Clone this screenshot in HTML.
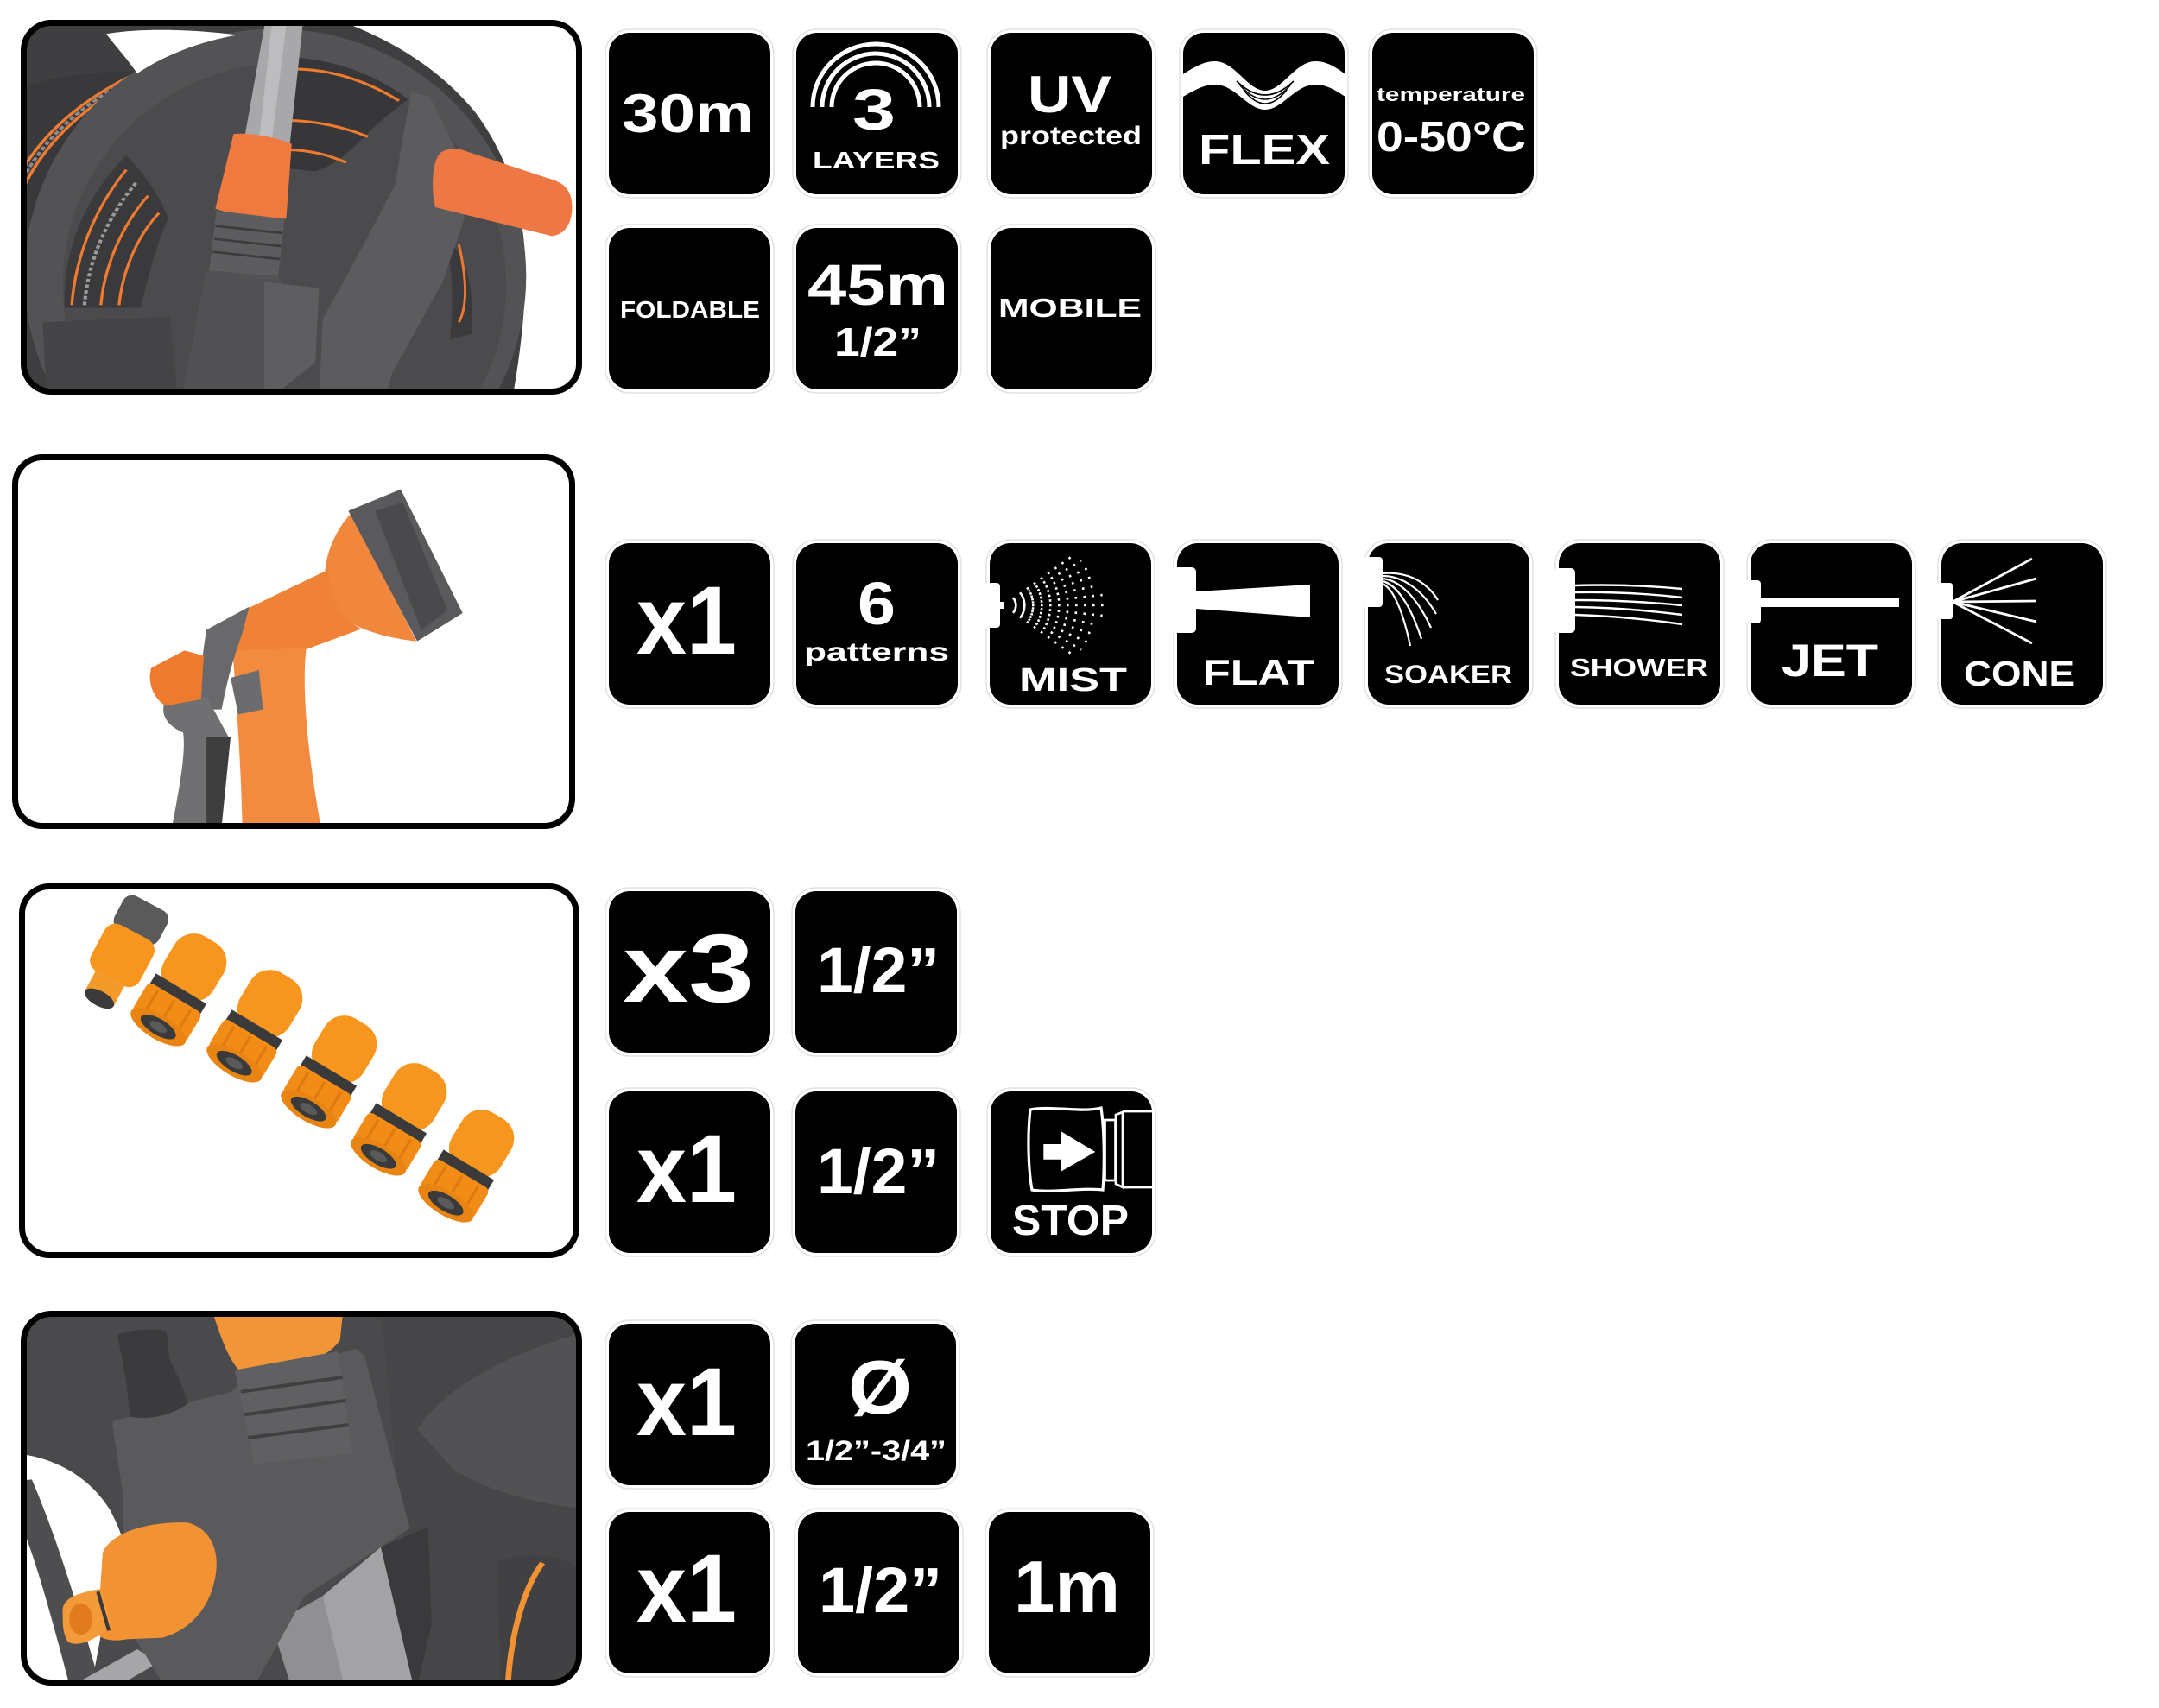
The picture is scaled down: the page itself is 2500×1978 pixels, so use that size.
<!DOCTYPE html>
<html><head><meta charset="utf-8">
<style>
html,body{margin:0;padding:0;background:#fff;}
svg{display:block;}
text{font-family:"Liberation Sans",Arial,sans-serif;font-weight:bold;fill:#fff;}
</style></head><body>
<svg width="2500" height="1978" viewBox="0 0 2500 1978" xmlns="http://www.w3.org/2000/svg" xmlns:xlink="http://www.w3.org/1999/xlink">
<defs>
 <clipPath id="c1"><rect x="27.5" y="26.5" width="643" height="427" rx="32"/></clipPath>
 <clipPath id="c2"><rect x="17.5" y="529.5" width="645" height="427" rx="32"/></clipPath>
 <clipPath id="c3"><rect x="25.5" y="1026.5" width="642" height="427" rx="32"/></clipPath>
 <clipPath id="c4"><rect x="27.5" y="1521.5" width="643" height="427" rx="32"/></clipPath>
 <clipPath id="cflex"><rect x="1370" y="38" width="187" height="187" rx="24"/></clipPath>
 <clipPath id="cstop"><rect x="1147" y="1264" width="187" height="187" rx="24"/></clipPath>
 <g id="conn">
  <rect x="-30" y="-58" width="60" height="68" rx="24" fill="#f7961f"/>
  <rect x="-31" y="2" width="62" height="13" fill="#3a3a3a"/>
  <rect x="-33" y="13" width="66" height="36" rx="6" fill="#f28c16"/>
  <line x1="-20" y1="16" x2="-20" y2="46" stroke="#e07a10" stroke-width="3"/>
  <line x1="0" y1="16" x2="0" y2="46" stroke="#e07a10" stroke-width="3"/>
  <line x1="20" y1="16" x2="20" y2="46" stroke="#e07a10" stroke-width="3"/>
  <ellipse cx="0" cy="49" rx="33" ry="13" fill="#e88412"/>
  <ellipse cx="0" cy="49" rx="21" ry="8.5" fill="#3a3a3a"/>
  <ellipse cx="0" cy="49" rx="10" ry="4.5" fill="#5a5a5a"/>
 </g>
</defs>

<rect width="2500" height="1978" fill="#fff"/>

<!-- ================= PHOTO 1 : hose reel ================= -->
<g clip-path="url(#c1)">
<g transform="translate(20,20) scale(0.42091,0.33333)">
 <rect x="0" y="0" width="1600" height="1340" fill="#fff"/>
 <path d="M0,0 L860,0 C1000,60 1150,160 1260,330 C1360,500 1400,700 1398,900 C1396,1050 1380,1200 1360,1340 L0,1340 Z" fill="#3f3f41"/>
 <!-- hose coils behind -->
 <path d="M0,250 C100,200 250,180 380,190 L400,600 L0,720 Z" fill="#39393b"/>
 <path d="M0,640 C50,480 150,330 330,215" stroke="#f07a2f" stroke-width="9" fill="none"/>
 <path d="M0,560 C60,420 160,300 310,205" stroke="#f07a2f" stroke-width="9" fill="none"/>
 <path d="M0,600 C55,450 155,315 320,210" stroke="#8c8c8c" stroke-width="10" fill="none" stroke-dasharray="14 8"/>
 <!-- disc -->
 <ellipse cx="710" cy="900" rx="690" ry="860" fill="#535355"/>
 <ellipse cx="735" cy="930" rx="610" ry="770" fill="#4b4b4d"/>
 <!-- white opening top-left (over disc edge) -->
 <path d="M245,58 C330,38 480,40 605,62 C520,80 420,120 330,195 C300,140 270,100 245,58 Z" fill="#fff"/>
 <!-- top window -->
 <path d="M745,140 C860,140 990,200 1075,285 L1000,360 C940,430 890,510 820,535 L745,525 Z" fill="#37373a"/>
 <path d="M760,180 C880,180 980,235 1050,290" stroke="#f07a2f" stroke-width="9" fill="none"/>
 <path d="M745,358 C830,360 905,385 965,415" stroke="#f07a2f" stroke-width="9" fill="none"/>
 <path d="M745,460 C810,462 860,480 905,505" stroke="#f07a2f" stroke-width="9" fill="none"/>
 <!-- left window -->
 <path d="M130,1010 C125,800 190,620 300,480 C360,560 400,640 415,700 C380,800 360,900 340,1010 Z" fill="#3a3a3c"/>
 <path d="M150,1000 C160,830 215,660 300,530" stroke="#f07a2f" stroke-width="8" fill="none"/>
 <path d="M230,1000 C240,860 290,720 360,620" stroke="#f07a2f" stroke-width="8" fill="none"/>
 <path d="M280,1000 C290,880 330,760 390,680" stroke="#f07a2f" stroke-width="8" fill="none"/>
 <path d="M185,1000 C195,840 250,690 330,570" stroke="#9a9a9a" stroke-width="10" fill="none" stroke-dasharray="12 8"/>
 <!-- bottom-left recess -->
 <path d="M70,1060 L420,1040 L440,1300 L80,1300 Z" fill="#444446"/>
 <!-- right window -->
 <path d="M1180,780 C1220,800 1260,900 1250,1100 L1190,1120 C1200,1000 1200,900 1180,780 Z" fill="#3a3a3c"/>
 <path d="M1215,790 C1235,900 1240,1000 1215,1060" stroke="#f07a2f" stroke-width="7" fill="none"/>
 <!-- pole -->
 <path d="M680,30 L785,30 L750,440 L625,420 Z" fill="#a8a8aa"/>
 <path d="M700,30 L740,30 L700,430 L665,425 Z" fill="#bdbdbf"/>
 <!-- orange sleeve -->
 <path d="M595,405 C650,400 720,420 755,440 L740,700 C680,700 600,690 545,665 Z" fill="#ee7a40"/>
 <!-- ribbed connector -->
 <path d="M548,672 L735,700 L718,900 L528,880 Z" fill="#5d5d5f"/>
 <path d="M545,725 L730,750 M542,770 L726,795 M538,815 L722,840" stroke="#3c3c3e" stroke-width="8"/>
 <!-- lower bracket -->
 <path d="M520,880 L720,900 L760,1000 L700,1340 L450,1340 Z" fill="#525254"/>
 <path d="M680,920 L830,940 L820,1200 L680,1340 Z" fill="#5e5e60"/>
 <!-- crank arm -->
 <path d="M1085,262 L1135,275 L1210,470 L1230,700 L1170,920 L1030,1240 L1010,1340 L830,1340 L840,1050 L940,820 L1040,580 L1060,420 Z" fill="#5c5c5e"/>
 <!-- orange handle -->
 <path d="M1165,470 C1140,500 1138,600 1150,660 L1470,760 C1520,755 1535,680 1522,620 C1512,585 1492,570 1462,560 L1222,460 C1200,455 1180,458 1165,470 Z" fill="#ee7843"/>
</g>
</g>
<rect x="27.5" y="26.5" width="643" height="427" rx="32" fill="none" stroke="#000" stroke-width="7"/>

<!-- ================= PHOTO 2 : spray gun ================= -->
<g clip-path="url(#c2)">
<g transform="translate(0,520) scale(0.79719,0.33333)">
 <rect x="0" y="0" width="1300" height="1400" fill="#fff"/>
 <path d="M515,210 C478,300 464,420 476,520 C488,600 540,650 605,668 L510,218 Z" fill="#f0873c"/>
 <path d="M506,215 L582,140 L672,570 L606,668 Z" fill="#5a5a5c"/>
 <path d="M545,215 L585,185 L650,560 L612,630 Z" fill="#4a4a4c"/>
 <path d="M476,420 L365,548 L300,628 L305,705 L435,705 L525,625 C495,590 480,520 476,420 Z" fill="#ef8236"/>
 <path d="M338,700 L445,692 C438,820 446,1050 466,1310 L352,1310 C350,1100 344,900 338,700 Z" fill="#f28b3f"/>
 <path d="M300,628 L362,548 L352,640 C340,720 330,800 322,905 L290,905 C290,800 294,710 300,628 Z" fill="#69696b"/>
 <path d="M238,890 L300,860 L332,1000 L318,1310 L250,1310 C262,1160 270,1050 266,985 C246,965 234,930 238,890 Z" fill="#707072"/>
 <path d="M300,1000 L335,1000 L322,1310 L300,1310 Z" fill="#3e3e3e"/>
 <path d="M220,760 L268,700 L296,718 L292,870 L240,892 C220,860 214,800 220,760 Z" fill="#ee7a2e"/>
 <path d="M335,795 L376,768 L382,905 L346,922 Z" fill="#6c6c6e"/>
</g>
</g>
<rect x="17.5" y="529.5" width="645" height="427" rx="32" fill="none" stroke="#000" stroke-width="7"/>

<!-- ================= PHOTO 3 : connectors ================= -->
<g clip-path="url(#c3)">
 <rect x="20" y="1020" width="660" height="440" fill="#fff"/>
 <g transform="translate(145,1100) rotate(28) scale(1.45)">
  <rect x="-20" y="-42" width="40" height="30" rx="8" fill="#5a5a5a"/>
  <rect x="-22" y="-16" width="44" height="42" rx="10" fill="#f7961f"/>
  <rect x="-13" y="24" width="26" height="20" fill="#f39a2b"/>
  <ellipse cx="0" cy="44" rx="13" ry="6" fill="#3a3a3a"/>
 </g>
 <use href="#conn" xlink:href="#conn" transform="translate(211,1143) rotate(31) scale(1.1)"/>
 <use href="#conn" xlink:href="#conn" transform="translate(299,1185) rotate(31) scale(1.1)"/>
 <use href="#conn" xlink:href="#conn" transform="translate(385,1238) rotate(31) scale(1.1)"/>
 <use href="#conn" xlink:href="#conn" transform="translate(466,1293) rotate(31) scale(1.1)"/>
 <use href="#conn" xlink:href="#conn" transform="translate(544,1347) rotate(31) scale(1.1)"/>
</g>
<rect x="25.5" y="1026.5" width="642" height="427" rx="32" fill="none" stroke="#000" stroke-width="7"/>

<!-- ================= PHOTO 4 : bracket ================= -->
<g clip-path="url(#c4)">
<g transform="translate(20,1515) scale(0.42091,0.33333)">
 <rect x="0" y="0" width="1600" height="1340" fill="#4a4a4c"/>
 <path d="M1000,0 L1600,0 L1600,1340 L1100,1340 Z" fill="#464648"/>
 <path d="M1100,420 C1150,330 1250,200 1540,90 L1600,90 L1600,700 C1450,690 1300,640 1200,560 Z" fill="#525254"/>
 <path d="M0,505 C130,525 210,610 255,700 C275,750 290,790 290,820 L250,1000 L200,1340 L0,1340 Z" fill="#fff"/>
 <path d="M0,600 L40,595 C110,800 170,1050 235,1340 L150,1340 C100,1100 50,860 0,720 Z" fill="#4e4e50"/>
 <path d="M110,1340 L330,1185 L390,1230 L240,1340 Z" fill="#a6a6a8"/>
 <path d="M1000,830 L1130,760 L1140,1100 L1095,1340 Z" fill="#3a3a3c"/>
 <path d="M840,1000 L1000,830 L1095,1340 L900,1340 Z" fill="#a3a3a5"/>
 <path d="M700,1100 L840,1000 L905,1340 L760,1340 Z" fill="#909092"/>
 <path d="M262,405 C262,390 270,385 285,385 L590,290 L600,275 L930,140 L955,165 L1080,765 L790,1000 L640,1340 L420,1340 L300,1100 L290,640 Z" fill="#5a5a5c"/>
 <path d="M540,25 L895,25 L888,110 C862,162 800,195 700,212 L612,218 C582,180 560,100 540,25 Z" fill="#f29438"/>
 <path d="M598,215 L882,150 L922,505 L652,542 Z" fill="#606062"/>
 <path d="M615,290 L895,240 M625,370 L905,320 M635,450 L912,405" stroke="#404042" stroke-width="12"/>
 <path d="M275,95 C300,70 400,70 410,80 L420,180 L450,260 L470,330 C420,380 340,390 310,375 L300,260 L290,180 Z" fill="#3b3b3d"/>
 <path d="M1320,880 C1400,840 1500,860 1540,900 L1540,1300 L1330,1300 Z" fill="#414143"/>
 <path d="M1350,1300 C1360,1110 1400,960 1445,885" stroke="#f39233" stroke-width="16" fill="none"/>
 <path d="M235,850 C260,770 380,740 470,745 C540,770 560,860 542,950 C525,1050 470,1120 400,1145 L300,1150 C260,1160 230,1150 220,1130 Z" fill="#f39233"/>
 <path d="M125,1060 C120,1010 160,990 230,975 L260,1100 C220,1150 170,1180 140,1160 C125,1130 125,1100 125,1060 Z" fill="#f39a3a"/>
 <ellipse cx="175" cy="1080" rx="32" ry="55" fill="#e27b1e"/>
 <path d="M222,985 L252,1120" stroke="#3a3a3a" stroke-width="10"/>
</g>
</g>
<rect x="27.5" y="1521.5" width="643" height="427" rx="32" fill="none" stroke="#000" stroke-width="7"/>

<!-- ================= ICON BOXES ================= -->
<g fill="none" stroke="#e2e2e2" stroke-width="1.5">
 <rect x="701" y="34" width="195" height="195" rx="28"/>
 <rect x="918" y="34" width="195" height="195" rx="28"/>
 <rect x="1143" y="34" width="195" height="195" rx="28"/>
 <rect x="1366" y="34" width="195" height="195" rx="28"/>
 <rect x="1585" y="34" width="195" height="195" rx="28"/>
 <rect x="701" y="260" width="195" height="195" rx="28"/>
 <rect x="918" y="260" width="195" height="195" rx="28"/>
 <rect x="1143" y="260" width="195" height="195" rx="28"/>
 <rect x="701" y="625" width="195" height="195" rx="28"/>
 <rect x="918" y="625" width="195" height="195" rx="28"/>
 <rect x="1142" y="625" width="195" height="195" rx="28"/>
 <rect x="1359" y="625" width="195" height="195" rx="28"/>
 <rect x="1580" y="625" width="195" height="195" rx="28"/>
 <rect x="1801" y="625" width="195" height="195" rx="28"/>
 <rect x="2023" y="625" width="195" height="195" rx="28"/>
 <rect x="2244" y="625" width="195" height="195" rx="28"/>
 <rect x="701" y="1028" width="195" height="195" rx="28"/>
 <rect x="917" y="1028" width="195" height="195" rx="28"/>
 <rect x="701" y="1260" width="195" height="195" rx="28"/>
 <rect x="917" y="1260" width="195" height="195" rx="28"/>
 <rect x="1143" y="1260" width="195" height="195" rx="28"/>
 <rect x="701" y="1529" width="195" height="195" rx="28"/>
 <rect x="916" y="1529" width="195" height="195" rx="28"/>
 <rect x="701" y="1747" width="195" height="195" rx="28"/>
 <rect x="920" y="1747" width="195" height="195" rx="28"/>
 <rect x="1141" y="1747" width="195" height="195" rx="28"/>
</g>
<g fill="#000">
 <rect x="705" y="38" width="187" height="187" rx="24"/>
 <rect x="922" y="38" width="187" height="187" rx="24"/>
 <rect x="1147" y="38" width="187" height="187" rx="24"/>
 <rect x="1370" y="38" width="187" height="187" rx="24"/>
 <rect x="1589" y="38" width="187" height="187" rx="24"/>
 <rect x="705" y="264" width="187" height="187" rx="24"/>
 <rect x="922" y="264" width="187" height="187" rx="24"/>
 <rect x="1147" y="264" width="187" height="187" rx="24"/>
 <rect x="705" y="629" width="187" height="187" rx="24"/>
 <rect x="922" y="629" width="187" height="187" rx="24"/>
 <rect x="1146" y="629" width="187" height="187" rx="24"/>
 <rect x="1363" y="629" width="187" height="187" rx="24"/>
 <rect x="1584" y="629" width="187" height="187" rx="24"/>
 <rect x="1805" y="629" width="187" height="187" rx="24"/>
 <rect x="2027" y="629" width="187" height="187" rx="24"/>
 <rect x="2248" y="629" width="187" height="187" rx="24"/>
 <rect x="705" y="1032" width="187" height="187" rx="24"/>
 <rect x="921" y="1032" width="187" height="187" rx="24"/>
 <rect x="705" y="1264" width="187" height="187" rx="24"/>
 <rect x="921" y="1264" width="187" height="187" rx="24"/>
 <rect x="1147" y="1264" width="187" height="187" rx="24"/>
 <rect x="705" y="1533" width="187" height="187" rx="24"/>
 <rect x="920" y="1533" width="187" height="187" rx="24"/>
 <rect x="705" y="1751" width="187" height="187" rx="24"/>
 <rect x="924" y="1751" width="187" height="187" rx="24"/>
 <rect x="1145" y="1751" width="187" height="187" rx="24"/>
</g>

<!-- Row A -->
<text x="720" y="153" font-size="63" textLength="153" lengthAdjust="spacingAndGlyphs">30m</text>

<g fill="none" stroke="#fff" stroke-width="5">
 <path d="M941,124 A73,73 0 0 1 1087,124"/>
 <path d="M952,124 A62,62 0 0 1 1076,124"/>
 <path d="M963,124 A51,51 0 0 1 1065,124"/>
</g>
<text x="987" y="150" font-size="67" textLength="50" lengthAdjust="spacingAndGlyphs">3</text>
<text x="941" y="195" font-size="28" textLength="147" lengthAdjust="spacingAndGlyphs">LAYERS</text>

<text x="1190" y="130" font-size="60" textLength="97" lengthAdjust="spacingAndGlyphs">UV</text>
<text x="1158" y="167" font-size="30" textLength="164" lengthAdjust="spacingAndGlyphs">protected</text>

<g clip-path="url(#cflex)">
 <path d="M1365,89 C1385,76 1395,71 1407,71 C1430,71 1445,105 1465,105 C1485,105 1500,71 1523,71 C1535,71 1545,76 1562,89 L1562,115 C1545,103 1535,98 1523,98 C1500,98 1485,127 1465,127 C1445,127 1430,98 1407,98 C1395,98 1385,103 1365,115 Z" fill="#fff"/>
</g>
<g fill="none" stroke="#000" stroke-width="1.6">
 <path d="M1432,94 Q1465,126 1498,94"/>
 <path d="M1436,99 Q1465,131 1494,99"/>
 <path d="M1440,104 Q1465,136 1490,104"/>
</g>
<text x="1388" y="190" font-size="49" textLength="152" lengthAdjust="spacingAndGlyphs">FLEX</text>

<text x="1594" y="117" font-size="22" textLength="172" lengthAdjust="spacingAndGlyphs">temperature</text>
<text x="1594" y="175" font-size="49" textLength="173" lengthAdjust="spacingAndGlyphs">0-50°C</text>

<!-- Row B -->
<text x="718" y="368" font-size="28" textLength="162" lengthAdjust="spacingAndGlyphs">FOLDABLE</text>
<text x="935" y="353" font-size="67" textLength="163" lengthAdjust="spacingAndGlyphs">45m</text>
<text x="966" y="412" font-size="46" textLength="101" lengthAdjust="spacingAndGlyphs">1/2”</text>
<text x="1156" y="367" font-size="31" textLength="166" lengthAdjust="spacingAndGlyphs">MOBILE</text>

<!-- Row C -->
<text x="737" y="757" font-size="112" textLength="116" lengthAdjust="spacingAndGlyphs">x1</text>
<text x="993" y="723" font-size="70" textLength="44" lengthAdjust="spacingAndGlyphs">6</text>
<text x="931" y="765" font-size="30" textLength="168" lengthAdjust="spacingAndGlyphs">patterns</text>

<!-- MIST -->
<rect x="1140" y="675" width="18" height="52" rx="4" fill="#fff"/>
<rect x="1156" y="697" width="7" height="8" fill="#fff"/>
<g stroke="#fff" stroke-width="2.6" stroke-dasharray="2.6 7.4">
 <line x1="1175" y1="701" x2="1280" y2="701"/>
 <line x1="1174.9" y1="699.7" x2="1276.6" y2="689.1"/>
 <line x1="1174.9" y1="702.3" x2="1276.6" y2="712.9"/>
 <line x1="1174.7" y1="698.5" x2="1272" y2="677.8"/>
 <line x1="1174.7" y1="703.5" x2="1272" y2="724.2"/>
 <line x1="1174.4" y1="697.3" x2="1266.2" y2="667.5"/>
 <line x1="1174.4" y1="704.7" x2="1266.2" y2="734.5"/>
 <line x1="1174" y1="696.1" x2="1259.6" y2="658"/>
 <line x1="1174" y1="705.9" x2="1259.6" y2="744"/>
 <line x1="1173.4" y1="695" x2="1252.1" y2="649.6"/>
 <line x1="1173.4" y1="707" x2="1252.1" y2="752.4"/>
 <line x1="1172.7" y1="693.9" x2="1244" y2="642.2"/>
 <line x1="1172.7" y1="708.1" x2="1244" y2="759.8"/>
</g>
<text x="1180" y="800" font-size="38" textLength="125" lengthAdjust="spacingAndGlyphs">MIST</text>

<!-- FLAT -->
<rect x="1356" y="657" width="29" height="76" rx="5" fill="#fff"/>
<polygon points="1385,685 1517,677 1517,715 1385,705" fill="#fff"/>
<text x="1393" y="793" font-size="42" textLength="129" lengthAdjust="spacingAndGlyphs">FLAT</text>

<!-- SOAKER -->
<rect x="1578" y="645" width="23" height="58" rx="4" fill="#fff"/>
<g fill="none" stroke="#fff" stroke-width="2.2">
 <path d="M1601,664 C1625,662 1650,670 1665,695"/>
 <path d="M1601,667 C1622,667 1645,680 1663,711"/>
 <path d="M1601,670 C1620,672 1640,690 1657,727"/>
 <path d="M1601,673 C1617,677 1633,700 1646,740"/>
 <path d="M1601,676 C1614,682 1625,710 1633,748"/>
</g>
<text x="1603" y="791" font-size="30" textLength="148" lengthAdjust="spacingAndGlyphs">SOAKER</text>

<!-- SHOWER -->
<rect x="1799" y="658" width="25" height="75" rx="5" fill="#fff"/>
<g fill="none" stroke="#fff" stroke-width="2.4">
 <path d="M1824,678 Q1886,676 1948,682"/>
 <path d="M1824,686 Q1886,685 1948,692"/>
 <path d="M1824,695 Q1886,695 1948,701"/>
 <path d="M1824,703 Q1886,704 1948,712"/>
 <path d="M1824,712 Q1886,714 1948,723"/>
</g>
<text x="1818" y="783" font-size="29" textLength="160" lengthAdjust="spacingAndGlyphs">SHOWER</text>

<!-- JET -->
<rect x="2020" y="672" width="19" height="50" rx="4" fill="#fff"/>
<rect x="2039" y="692" width="160" height="11" fill="#fff"/>
<text x="2063" y="783" font-size="53" textLength="112" lengthAdjust="spacingAndGlyphs">JET</text>

<!-- CONE -->
<rect x="2242" y="675" width="19" height="42" rx="3" fill="#fff"/>
<g stroke="#fff" stroke-width="2.8">
 <line x1="2261" y1="697" x2="2353" y2="647"/>
 <line x1="2261" y1="697" x2="2358" y2="670"/>
 <line x1="2261" y1="697" x2="2358" y2="696"/>
 <line x1="2261" y1="697" x2="2358" y2="720"/>
 <line x1="2261" y1="697" x2="2353" y2="745"/>
</g>
<text x="2274" y="794" font-size="41" textLength="128" lengthAdjust="spacingAndGlyphs">CONE</text>

<!-- Row D -->
<text x="721" y="1160" font-size="112" textLength="152" lengthAdjust="spacingAndGlyphs">x3</text>
<text x="946" y="1149" font-size="74" textLength="142" lengthAdjust="spacingAndGlyphs">1/2”</text>

<!-- Row E -->
<text x="737" y="1392" font-size="112" textLength="116" lengthAdjust="spacingAndGlyphs">x1</text>
<text x="946" y="1382" font-size="74" textLength="142" lengthAdjust="spacingAndGlyphs">1/2”</text>
<g clip-path="url(#cstop)">
 <path d="M1193,1285 C1216,1280 1253,1289 1275,1283 C1279,1310 1279,1353 1277,1378 C1253,1375 1216,1382 1195,1378 C1190,1350 1190,1310 1193,1285 Z" fill="none" stroke="#fff" stroke-width="3.2"/>
 <polygon points="1208.3,1325 1228.3,1325 1228.3,1310 1268.3,1334 1228.3,1356.7 1228.3,1342.7 1208.3,1342.7" fill="#fff"/>
 <rect x="1279.5" y="1297" width="12" height="70" fill="none" stroke="#fff" stroke-width="2.7"/>
 <path d="M1292,1291 L1300,1288 L1300,1375 L1292,1371 Z" fill="none" stroke="#fff" stroke-width="2.7"/>
 <path d="M1300,1287 L1340,1287 M1300,1375 L1340,1375" stroke="#fff" stroke-width="2.7"/>
</g>
<text x="1172" y="1430" font-size="49" textLength="135" lengthAdjust="spacingAndGlyphs">STOP</text>

<!-- Row F -->
<text x="737" y="1662" font-size="112" textLength="116" lengthAdjust="spacingAndGlyphs">x1</text>
<text x="982" y="1637" font-size="88" textLength="74" lengthAdjust="spacingAndGlyphs">Ø</text>
<text x="933" y="1691" font-size="32" textLength="163" lengthAdjust="spacingAndGlyphs">1/2”-3/4”</text>

<!-- Row G -->
<text x="737" y="1878" font-size="112" textLength="116" lengthAdjust="spacingAndGlyphs">x1</text>
<text x="948" y="1867" font-size="74" textLength="143" lengthAdjust="spacingAndGlyphs">1/2”</text>
<text x="1174" y="1867" font-size="85" textLength="123" lengthAdjust="spacingAndGlyphs">1m</text>

</svg>
</body></html>
